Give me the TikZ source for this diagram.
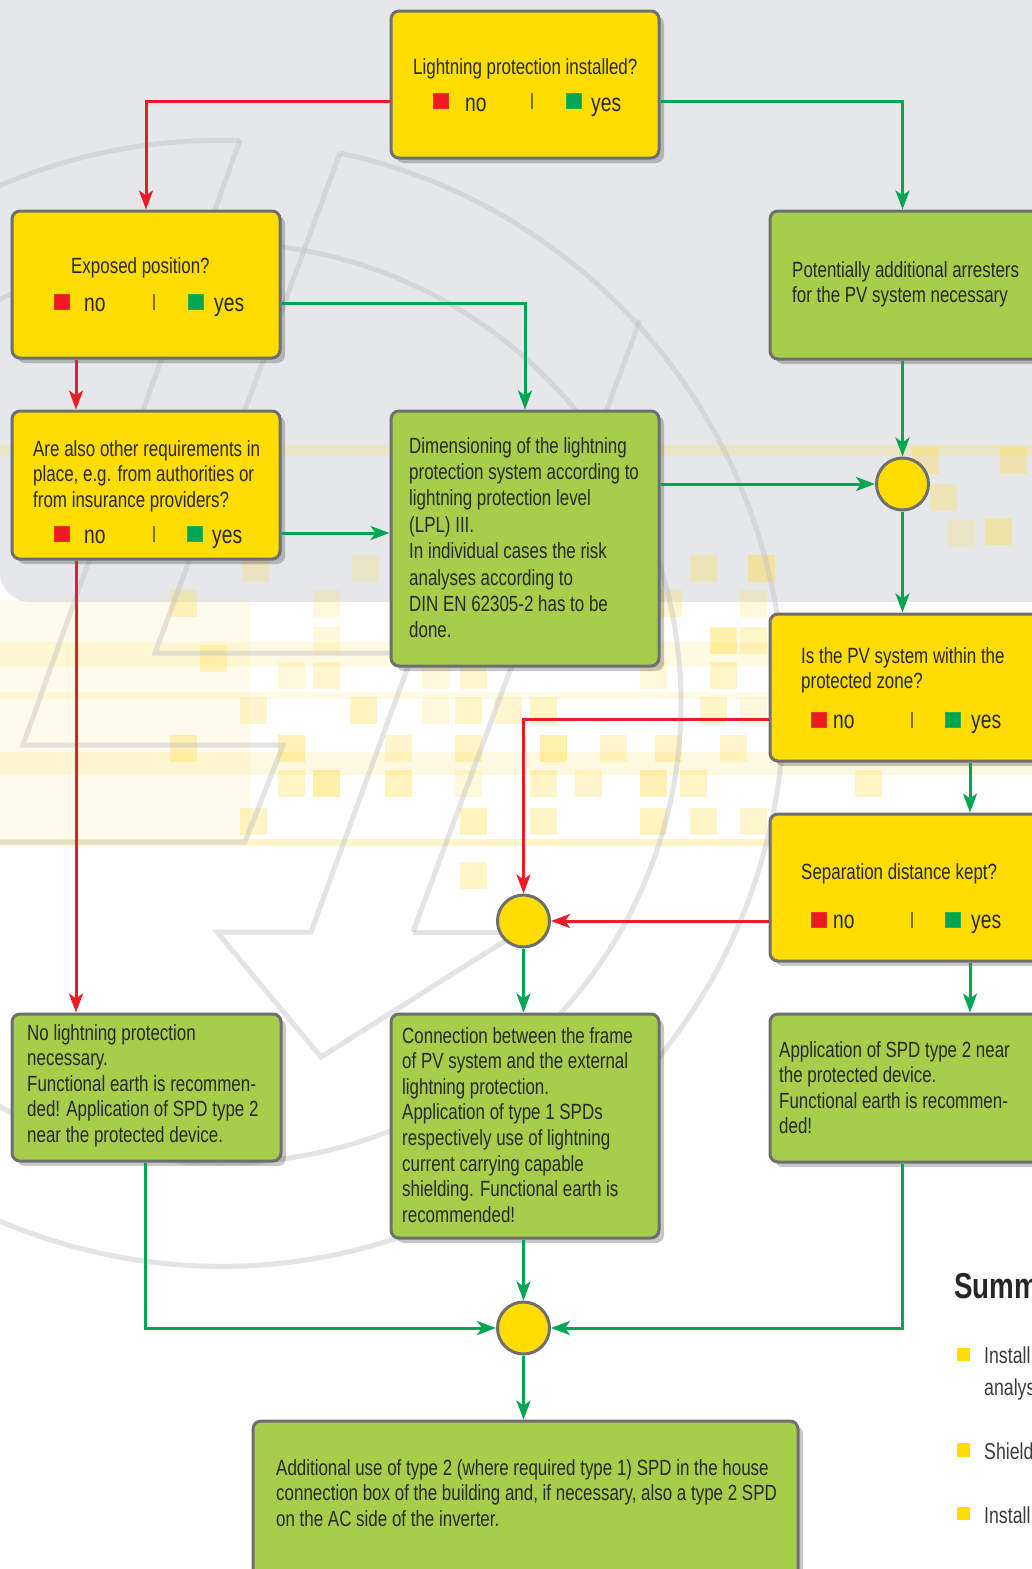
\documentclass[tikz,border=0pt]{standalone}
\usepackage{fontspec}
\setmainfont{Liberation Sans}[FakeStretch=0.77]
\usetikzlibrary{arrows.meta,shadows}
\definecolor{bgg}{RGB}{230,231,233}
\definecolor{qyel}{RGB}{255,221,0}
\definecolor{agrn}{RGB}{166,206,74}
\definecolor{bord}{RGB}{110,111,113}
\definecolor{lred}{RGB}{237,28,36}
\definecolor{lgrn}{RGB}{0,166,81}
\definecolor{txtc}{RGB}{40,40,40}
\definecolor{sumc}{RGB}{60,60,60}
\definecolor{barc}{RGB}{125,110,20}
\definecolor{wmk}{RGB}{190,191,193}
\definecolor{pix}{RGB}{255,222,70}
\tikzset{
  boxbase/.style={draw=bord, line width=3pt, rounded corners=8pt, inner sep=0pt, anchor=north west,
     drop shadow={shadow xshift=5pt, shadow yshift=-5pt, opacity=0.22, fill=black}},
  qbox/.style={boxbase, fill=qyel},
  abox/.style={boxbase, fill=agrn},
  jct/.style={circle, draw=bord, line width=3pt, fill=qyel, minimum size=52pt, inner sep=0pt},
  txt/.style={inner sep=0pt, anchor=base west, text=txtc, align=left, font=\fontsize{22}{25.6}\selectfont},
  yn/.style={inner sep=0pt, anchor=base west, text=txtc, font=\fontsize{25}{28}\selectfont},
  rsq/.style={fill=lred, draw=lred!80!orange, line width=0.6pt, minimum size=15pt, inner sep=0pt},
  gsq/.style={fill=lgrn, draw=lgrn!85!yellow, line width=0.6pt, minimum size=15pt, inner sep=0pt},
  barn/.style={fill=barc, minimum width=1.6pt, minimum height=16pt, inner sep=0pt},
  rarr/.style={draw=lred, line width=3pt, -{Stealth[length=19pt,width=14pt,inset=5pt]}},
  garr/.style={draw=lgrn, line width=3pt, -{Stealth[length=19pt,width=14pt,inset=5pt]}},
  wm/.style={draw=wmk, opacity=0.42, line width=5pt, line join=miter},
  pixsq/.style={fill=pix},
}
\newcommand\qrow[8]{%
  \node[rsq] (#1r) at (#2,#7) {};
  \node[yn] (#1n) at (#3,#8) {no};
  \node[barn] (#1b) at (#4,#7) {};
  \node[gsq] (#1g) at (#5,#7) {};
  \node[yn] (#1y) at (#6,#8) {yes};
}
\begin{document}
\begin{tikzpicture}[x=1pt,y=-1pt]
\clip (0,0) rectangle (1032,1569);
\useasboundingbox (0,0) rectangle (1032,1569);
% background
\fill[white] (0,0) rectangle (1032,1569);
\fill[bgg] (40,0) rectangle (1032,602);
\fill[bgg] (0,0) rectangle (60,300);
\fill[bgg, rounded corners=30pt] (0,100) rectangle (100,602);
% yellow pixel bands
\fill[pix, opacity=0.22] (0,445) rectangle (1032,456);
\fill[pix, opacity=0.14] (0,642) rectangle (1032,667);
\fill[pix, opacity=0.12] (0,692) rectangle (1032,699);
\fill[pix, opacity=0.16] (0,752) rectangle (1032,775);
\fill[pix, opacity=0.28] (0,839) rectangle (1032,846);
\fill[pix, opacity=0.10] (0,600) rectangle (250,840);
\foreach \px/\py/\po in {
  242/555/0.25, 352/555/0.2, 690/555/0.3, 748/555/0.45, 912/447/0.35, 930/484/0.3, 948/520/0.2, 985/518/0.4, 1000/447/0.35,
  170/590/0.3, 313/590/0.2, 655/590/0.25, 740/590/0.2,
  313/627/0.2, 710/627/0.45, 740/627/0.3, 200/645/0.3,
  278/662/0.2, 313/662/0.25, 422/662/0.2, 460/662/0.25, 640/662/0.2, 710/662/0.3,
  240/697/0.25, 350/697/0.35, 422/697/0.2, 455/697/0.3, 495/697/0.25, 530/697/0.3, 700/697/0.3, 740/697/0.2,
  170/735/0.35, 278/735/0.4, 385/735/0.25, 455/735/0.3, 540/735/0.45, 600/735/0.25, 655/735/0.3, 720/735/0.25,
  278/770/0.3, 313/770/0.45, 385/770/0.35, 455/770/0.2, 530/770/0.3, 575/770/0.25, 640/770/0.4, 680/770/0.3, 855/770/0.3,
  240/808/0.3, 460/808/0.35, 530/808/0.3, 640/808/0.35, 690/808/0.3, 740/808/0.25,
  460/862/0.3}
  {\fill[pixsq, opacity=\po] (\px,\py) rectangle ++(27,27);}
% watermark
\draw[wm] (340,153) arc[start angle=-77.8, end angle=271.93, radius=563];
\draw[wm] (221,703) ++(0:460) arc[start angle=0, end angle=360, radius=460];
\draw[wm] (240,140) -- (23,745) -- (283,745) -- (245,842) -- (0,842);
\draw[wm] (340,153) -- (155,653) -- (413,653) -- (311,932) -- (217,932) -- (321,1057) -- (530,925);
\draw[wm] (413,932) -- (520,932);
\draw[wm] (413,932) -- (640,320);
% boxes
\node[qbox, minimum width=268pt, minimum height=147pt] (top) at (389.5,9.5) {};
\node[qbox, minimum width=268pt, minimum height=147pt] (exp) at (10.5,209.5) {};
\node[qbox, minimum width=268pt, minimum height=148pt] (oth) at (10.5,409.5) {};
\node[abox, minimum width=268pt, minimum height=255pt] (dim) at (389.5,409.5) {};
\node[abox, minimum width=280pt, minimum height=148pt] (pot) at (768.5,209.5) {};
\node[qbox, minimum width=280pt, minimum height=147pt] (pv) at (768.5,612.5) {};
\node[qbox, minimum width=280pt, minimum height=147pt] (sep) at (768.5,812.5) {};
\node[abox, minimum width=269pt, minimum height=147pt] (nol) at (10.5,1012.5) {};
\node[abox, minimum width=268pt, minimum height=224pt] (con) at (389.5,1012.5) {};
\node[abox, minimum width=280pt, minimum height=148pt] (app) at (768.5,1012.5) {};
\node[abox, minimum width=545pt, minimum height=170pt] (bot) at (251.5,1419.5) {};
% junctions
\node[jct] (c1) at (902.5,484) {};
\node[jct] (c2) at (523.5,921) {};
\node[jct] (c3) at (523.5,1328) {};
% texts (multi-line nodes: base = last line baseline)
\node[txt] (ttop) at (413,74) {Lightning protection installed?};
\qrow{t}{440.5}{465}{532}{574}{591}{101}{111}
\node[txt] (texp) at (71,273) {Exposed position?};
\qrow{e}{62}{84}{154}{195.5}{214}{302}{311}
\node[txt] (toth) at (33,507.2) {Are also other requirements in\\place, e.g. from authorities or\\from insurance providers?};
\qrow{o}{62}{84}{154}{195}{212}{534}{543}
\node[txt, font=\fontsize{22}{26.4}\selectfont] (tdim) at (409,637.8) {Dimensioning of the lightning\\protection system according to\\lightning protection level\\(LPL) III.\\In individual cases the risk\\analyses according to\\DIN EN 62305-2 has to be\\done.};
\node[txt, font=\fontsize{22}{25}\selectfont] (tpot) at (792,302) {Potentially additional arresters\\for the PV system necessary};
\node[txt, font=\fontsize{22}{25}\selectfont] (tpv) at (801,688) {Is the PV system within the\\protected zone?};
\qrow{p}{819}{833}{912}{952.5}{971}{719.5}{728}
\node[txt] (tsep) at (801,879) {Separation distance kept?};
\qrow{s}{819}{833}{912}{952.5}{971}{920}{928}
\node[txt] (tnol) at (27,1142.4) {No lightning protection\\necessary.\\Functional earth is recommen-\\ded! Application of SPD type 2\\near the protected device.};
\node[txt] (tcon) at (402,1222.2) {Connection between the frame\\of PV system and the external\\lightning protection.\\Application of type 1 SPDs\\respectively use of lightning\\current carrying capable\\shielding. Functional earth is\\recommended!};
\node[txt] (tapp) at (779,1133.8) {Application of SPD type 2 near\\the protected device.\\Functional earth is recommen-\\ded!};
\node[txt] (tbot) at (276,1526.2) {Additional use of type 2 (where required type 1) SPD in the house\\connection box of the building and, if necessary, also a type 2 SPD\\on the AC side of the inverter.};
% summary fragment
\node[inner sep=0pt, anchor=base west, text=black!85, font=\bfseries\fontsize{36}{40}\selectfont] (sum) at (954,1298) {Summ};
\node[fill=qyel, minimum size=13.5pt, inner sep=0pt] (b1) at (963.5,1354.5) {};
\node[fill=qyel, minimum size=13.5pt, inner sep=0pt] (b2) at (963.5,1450) {};
\node[fill=qyel, minimum size=13.5pt, inner sep=0pt] (b3) at (963.5,1513.5) {};
\node[txt, text=sumc, font=\fontsize{23}{32}\selectfont] (s1) at (984,1395) {Install\\analys};
\node[txt, text=sumc, font=\fontsize{23}{32}\selectfont] (s2) at (984,1459) {Shield};
\node[txt, text=sumc, font=\fontsize{23}{32}\selectfont] (s3) at (984,1523) {Install};
% level coordinates
\coordinate (yA) at (0,101);
\coordinate (yE) at (0,303);
\coordinate (yO) at (0,533);
\coordinate (yP) at (0,719);
\coordinate (xL) at (76,0);
\coordinate (xM) at (145,0);
\coordinate (xR) at (902.5,0);
\coordinate (xS) at (970,0);
% connectors
\draw[rarr] (top.west |- yA) -| (exp.north);
\draw[garr] (top.east |- yA) -| (xR |- pot.north);
\draw[rarr] (xL |- exp.south) -- (xL |- oth.north);
\draw[garr] (exp.east |- yE) -| (dim.north);
\draw[garr] (oth.east |- yO) -- (dim.west |- yO);
\draw[rarr] (xL |- oth.south) -- (xL |- nol.north);
\draw[garr] (xR |- pot.south) -- (c1.north);
\draw[garr] (dim.east |- c1) -- (c1.west);
\draw[garr] (c1.south) -- (c1 |- pv.north);
\draw[rarr] (pv.west |- yP) -| (c2.north);
\draw[garr] (xS |- pv.south) -- (xS |- sep.north);
\draw[rarr] (sep.west |- c2) -- (c2.east);
\draw[garr] (xS |- sep.south) -- (xS |- app.north);
\draw[garr] (c2.south) -- (c2 |- con.north);
\draw[garr] (xM |- nol.south) |- (c3.west);
\draw[garr] (c3 |- con.south) -- (c3.north);
\draw[garr] (xR |- app.south) |- (c3.east);
\draw[garr] (c3.south) -- (c3 |- bot.north);
\end{tikzpicture}
\end{document}
